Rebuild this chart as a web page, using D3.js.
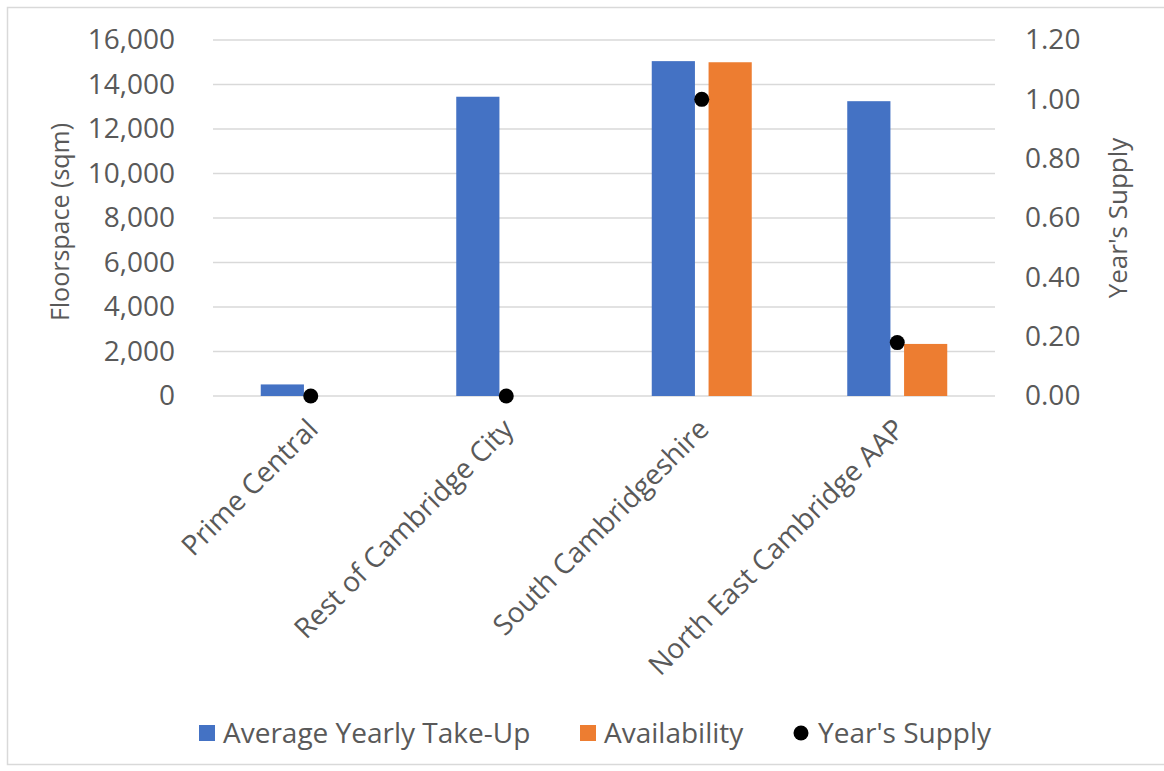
<!DOCTYPE html>
<html>
<head>
<meta charset="utf-8">
<script src="https://cdn.jsdelivr.net/npm/d3@7"></script>
<style>
  body { margin: 0; background: #fff; }
  text { font-family: "Open Sans", sans-serif; fill: #595959; }
</style>
</head>
<body>
<div id="chart"></div>
<script>
var width = 1164;
var height = 771;

// data
var categories = ["Prime Central", "Rest of Cambridge City", "South Cambridgeshire", "North East Cambridge AAP"];
var takeUp = [520, 13450, 15050, 13250];
var availability = [0, 0, 15000, 2340];
var yearsSupply = [0, 0, 1.0, 0.18];
var leftTicks = [0, 2000, 4000, 6000, 8000, 10000, 12000, 14000, 16000];
var rightTicks = [0, 0.2, 0.4, 0.6, 0.8, 1.0, 1.2];
var seriesNames = ["Average Yearly Take-Up", "Availability", "Year's Supply"];

var blue = "#4472C4", orange = "#ED7D31", grid = "#d9d9d9";

var plot = { left: 213, right: 995, top: 40, bottom: 396 };

var svg = d3.select("#chart")
    .append("svg")
    .attr("width", width)
    .attr("height", height);

// chart border
svg.append("rect")
    .attr("x", 7.5).attr("y", 7.5)
    .attr("width", width).attr("height", 757)
    .attr("fill", "none")
    .attr("stroke", grid)
    .attr("stroke-width", 1.5);

var x = d3.scaleBand()
    .domain(categories)
    .range([plot.left, plot.right]);

var inner = d3.scaleBand()
    .domain([0, 1])
    .range([-50, 50])
    .paddingInner(0.24);

var yLeft = d3.scaleLinear().domain([0, 16000]).range([plot.bottom, plot.top]);
var yRight = d3.scaleLinear().domain([0, 1.2]).range([plot.bottom, plot.top]);

// gridlines
svg.append("g")
    .selectAll("line")
    .data(leftTicks)
    .enter()
    .append("line")
    .attr("x1", plot.left).attr("x2", plot.right)
    .attr("y1", function(d) { return yLeft(d); })
    .attr("y2", function(d) { return yLeft(d); })
    .attr("stroke", grid)
    .attr("stroke-width", 1.5);

// left axis
var leftAxis = svg.append("g")
    .attr("transform", "translate(175,0)")
    .call(d3.axisLeft(yLeft).tickValues(leftTicks).tickSize(0).tickPadding(0).tickFormat(d3.format(",")));
leftAxis.select(".domain").remove();
leftAxis.selectAll("text").style("font-size", "28px").attr("fill", "#595959").attr("font-family", "Open Sans");

// right axis
var rightAxis = svg.append("g")
    .attr("transform", "translate(1025,0)")
    .call(d3.axisRight(yRight).tickValues(rightTicks).tickSize(0).tickPadding(0).tickFormat(d3.format(".2f")));
rightAxis.select(".domain").remove();
rightAxis.selectAll("text").style("font-size", "28px").attr("fill", "#595959").attr("font-family", "Open Sans");

// bars
var groups = svg.append("g")
    .selectAll("g")
    .data(categories)
    .enter()
    .append("g")
    .attr("transform", function(d) { return "translate(" + (x(d) + x.bandwidth() / 2) + ",0)"; });

groups.append("rect")
    .attr("x", inner(0))
    .attr("width", inner.bandwidth())
    .attr("y", function(d, i) { return yLeft(takeUp[i]); })
    .attr("height", function(d, i) { return yLeft(0) - yLeft(takeUp[i]); })
    .attr("fill", blue);

groups.append("rect")
    .attr("x", inner(1))
    .attr("width", inner.bandwidth())
    .attr("y", function(d, i) { return yLeft(availability[i]); })
    .attr("height", function(d, i) { return yLeft(0) - yLeft(availability[i]); })
    .attr("fill", orange);

// year's supply markers
groups.append("circle")
    .attr("cx", 0)
    .attr("cy", function(d, i) { return yRight(yearsSupply[i]); })
    .attr("r", 7.5)
    .attr("fill", "#000");

// category labels
svg.append("g")
    .selectAll("text")
    .data(categories)
    .enter()
    .append("text")
    .attr("transform", function(d) { return "translate(" + (x(d) + x.bandwidth() / 2 + 2) + ",424) rotate(-45)"; })
    .attr("text-anchor", "end")
    .attr("dy", "0.35em")
    .style("font-size", "28px")
    .text(function(d) { return d; });

// axis titles
svg.append("text")
    .attr("transform", "translate(60,222) rotate(-90)")
    .attr("text-anchor", "middle")
    .attr("dy", "0.35em")
    .style("font-size", "25px")
    .text("Floorspace (sqm)");

svg.append("text")
    .attr("transform", "translate(1118,218) rotate(-90)")
    .attr("text-anchor", "middle")
    .attr("dy", "0.35em")
    .style("font-size", "26px")
    .text("Year's Supply");

// legend
var legendX = [199, 580, 794];
var legend = svg.append("g")
    .selectAll("g")
    .data(seriesNames)
    .enter()
    .append("g")
    .attr("transform", function(d, i) { return "translate(" + legendX[i] + ",733)"; });

legend.filter(function(d, i) { return i < 2; })
    .append("rect")
    .attr("x", 0).attr("y", -8)
    .attr("width", 16).attr("height", 16)
    .attr("fill", function(d, i) { return i === 0 ? blue : orange; });

legend.filter(function(d, i) { return i === 2; })
    .append("circle")
    .attr("cx", 7).attr("cy", 0).attr("r", 7.5)
    .attr("fill", "#000");

legend.append("text")
    .attr("x", 24)
    .attr("dy", "0.35em")
    .style("font-size", "28px")
    .text(function(d) { return d; });
</script>
</body>
</html>
